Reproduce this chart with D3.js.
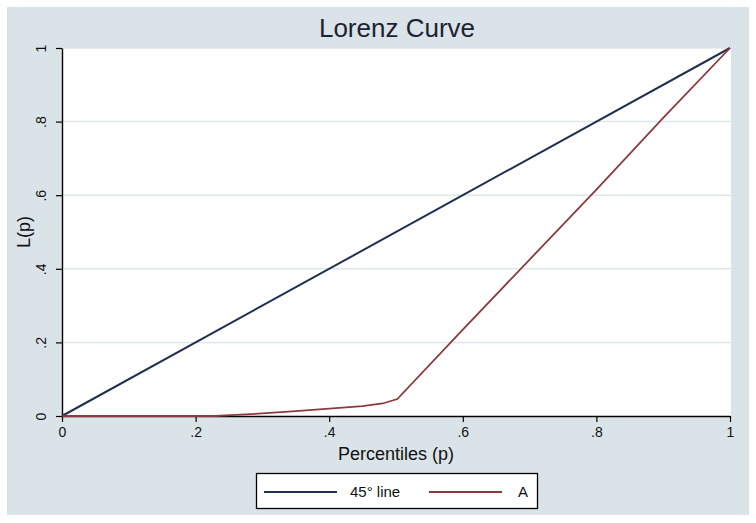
<!DOCTYPE html>
<html>
<head>
<meta charset="utf-8">
<script src="https://cdn.jsdelivr.net/npm/d3@7"></script>
<style>
  body { margin: 0; background: #fff; }
  text { font-family: "Liberation Sans", Arial, sans-serif; }
</style>
</head>
<body>
<div id="container"></div>
<script>
let width = 756;
let height = 523;

// data
var ticks = [0, 0.2, 0.4, 0.6, 0.8, 1];
var tickLabels = ["0", ".2", ".4", ".6", ".8", "1"];
var equalP = [0, 1];
var equalL = [0, 1];
var curveP = [0, 0.23, 0.26, 0.30, 0.35, 0.40, 0.45, 0.48, 0.502, 0.6, 0.7, 0.8, 0.9, 1];
var curveL = [0, 0, 0.003, 0.007, 0.013, 0.020, 0.027, 0.034, 0.046, 0.235, 0.425, 0.615, 0.81, 1];
var seriesNames = ["45\u00b0 line", "A"];
var seriesColors = ["#22304f", "#8c3a3f"];

let margin = {left: 62, right: 26, top: 48, bottom: 107};

let viz = d3.select("#container").append("svg")
    .attr("width", width)
    .attr("height", height)
;

// graph region
viz.append("rect")
  .attr("x", 7).attr("y", 7)
  .attr("width", 742).attr("height", 508)
  .attr("fill", "#dae4e8");

let x = d3.scaleLinear().domain([0, 1]).range([margin.left, width - margin.right]);
let y = d3.scaleLinear().domain([0, 1]).range([height - margin.bottom, margin.top]);

// plot region
viz.append("rect")
  .attr("x", x(0)).attr("y", y(1))
  .attr("width", x(1) - x(0) + 1).attr("height", y(0) - y(1))
  .attr("fill", "#ffffff");

// grid
viz.append("g")
  .selectAll("line")
  .data(ticks.filter(function(d){ return d > 0; }))
  .enter().append("line")
    .attr("x1", x(0)).attr("x2", x(1) + 1)
    .attr("y1", function(d){ return y(d); })
    .attr("y2", function(d){ return y(d); })
    .attr("stroke", "#dde7ea")
    .attr("stroke-width", 1.5);

// axes
let xAxis = viz.append("g")
  .attr("transform", "translate(0," + y(0) + ")")
  .call(d3.axisBottom(x).tickValues(ticks)
    .tickFormat(function(d, i){ return tickLabels[i]; })
    .tickSize(6).tickPadding(5).tickSizeOuter(0));
xAxis.select(".domain").attr("stroke", "#000").attr("stroke-width", 1.4);
xAxis.selectAll(".tick line").attr("stroke", "#000").attr("stroke-width", 1.2);
xAxis.selectAll("text")
  .style("font-family", "'Liberation Sans', Arial, sans-serif")
  .style("font-size", "14px").attr("fill", "#111");

let yAxis = viz.append("g")
  .attr("transform", "translate(" + x(0) + ",0)")
  .call(d3.axisLeft(y).tickValues(ticks)
    .tickFormat(function(d, i){ return tickLabels[i]; })
    .tickSize(6).tickSizeOuter(0));
yAxis.select(".domain").attr("stroke", "#000").attr("stroke-width", 1.4);
yAxis.selectAll(".tick line").attr("stroke", "#000").attr("stroke-width", 1.2);
yAxis.selectAll("text")
  .attr("x", null).attr("dy", null)
  .attr("text-anchor", "middle")
  .attr("transform", "translate(-16,0) rotate(-90)")
  .style("font-family", "'Liberation Sans', Arial, sans-serif")
  .style("font-size", "14px").attr("fill", "#111");

// lines
let line = d3.line()
  .x(function(d){ return x(d[0]); })
  .y(function(d){ return y(d[1]); });

viz.append("path")
  .datum(equalP.map(function(p, i){ return [p, equalL[i]]; }))
  .attr("d", line)
  .attr("fill", "none")
  .attr("stroke", seriesColors[0])
  .attr("stroke-width", 2);

viz.append("path")
  .datum(curveP.map(function(p, i){ return [p, curveL[i]]; }))
  .attr("d", line)
  .attr("fill", "none")
  .attr("stroke", seriesColors[1])
  .attr("stroke-width", 1.8);

// titles
viz.append("text")
  .text("Lorenz Curve")
  .attr("x", 397).attr("y", 37)
  .attr("text-anchor", "middle")
  .style("font-size", "26px")
  .attr("fill", "#1d2233");

viz.append("text")
  .text("Percentiles (p)")
  .attr("x", 396).attr("y", 460)
  .attr("text-anchor", "middle")
  .style("font-size", "18px")
  .attr("fill", "#111");

viz.append("text")
  .text("L(p)")
  .attr("transform", "translate(30,232) rotate(-90)")
  .attr("text-anchor", "middle")
  .style("font-size", "18px")
  .attr("fill", "#111");

// legend
let legend = viz.append("g").attr("class", "legend");
legend.append("rect")
  .attr("x", 256.5).attr("y", 473.5)
  .attr("width", 281).attr("height", 35)
  .attr("fill", "#fff")
  .attr("stroke", "#000")
  .attr("stroke-width", 1.3);

let keyX = [264, 429];
let labelX = [350, 518];
let item = legend.selectAll(".item")
  .data(seriesNames)
  .enter().append("g")
  .attr("class", "item");

item.append("line")
  .attr("x1", function(d, i){ return keyX[i]; })
  .attr("x2", function(d, i){ return keyX[i] + 73; })
  .attr("y1", 492).attr("y2", 492)
  .attr("stroke", function(d, i){ return seriesColors[i]; })
  .attr("stroke-width", 1.8);

item.append("text")
  .text(function(d){ return d; })
  .attr("x", function(d, i){ return labelX[i]; })
  .attr("y", 497)
  .style("font-size", "15px")
  .attr("fill", "#111");
</script>
</body>
</html>
